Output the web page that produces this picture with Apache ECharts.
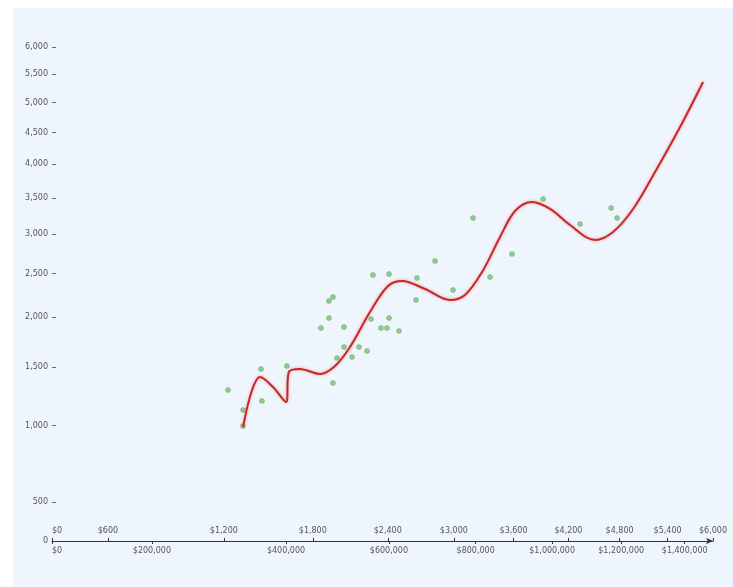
<!DOCTYPE html>
<html>
<head>
<meta charset="utf-8">
<script src="https://cdn.jsdelivr.net/npm/echarts@6/dist/echarts.min.js"></script>
<style>
  html, body { margin: 0; padding: 0; background: #ffffff; }
  #chart { position: absolute; left: 13px; top: 8px; width: 720px; height: 579px; background: #eef5fc; }
</style>
</head>
<body>
<div id="chart"></div>
<script>
// tick labels (axes use a square-root scale)
const xTicksTop = [600, 1200, 1800, 2400, 3000, 3600, 4200, 4800, 5400, 6000]
const xTicksBottom = [200000, 400000, 600000, 800000, 1000000, 1200000, 1400000]
const yTicks = [500, 1000, 1500, 2000, 2500, 3000, 3500, 4000, 4500, 5000, 5500, 6000]
const bottomScale = 249 // bottom axis value = top axis value * 249
const xMinValue = 384
const xMaxValue = 6000
const yMinValue = 311
const yMaxValue = 6130

// observed points
const pointsX = [1225, 1319, 1319, 1436, 1442, 1613, 1953, 1861, 1922, 1922, 1953, 2039, 2039, 1984, 2103, 2159, 2225, 2258,
  2342, 2393, 2411, 2497, 2275, 2411, 2657, 2648, 2822, 2992, 3187, 3357, 3584, 3917, 4333, 4698, 4770]
const pointsY = [1290, 1122, 996, 1479, 1196, 1507, 1352, 1886, 1992, 2181, 2226, 1896, 1691, 1584, 1593, 1691, 1652, 1982,
  1886, 1886, 1992, 1854, 2484, 2496, 2448, 2192, 2656, 2307, 3220, 2460, 2744, 3486, 3138, 3359, 3220]

// fitted curve
const fitX = [1319, 1377, 1429, 1516, 1606, 1627, 1706, 1854, 1969, 2087, 2250, 2402, 2524, 2730, 2964, 3108, 3277, 3460,
  3616, 3797, 3994, 4218, 4507, 4721, 4965, 5240, 5562, 5866]
const fitY = [988, 1290, 1406, 1316, 1188, 1452, 1479, 1433, 1507, 1691, 2058, 2353, 2413, 2318, 2192, 2249, 2521, 2964,
  3317, 3443, 3345, 3124, 2925, 3030, 3345, 3883, 4591, 5360]

const sq = Math.sqrt
const xMin = sq(xMinValue)
const xMax = sq(xMaxValue)
const yMin = sq(yMinValue)
const yMax = sq(yMaxValue)

const fmt = (n) => n.toLocaleString('en-US')
const labelStyle = { color: '#555', fontSize: 8, fontFamily: 'DejaVu Sans' }

const chart = echarts.init(document.getElementById('chart'))
chart.setOption({
  animation: false,
  grid: { left: 39, right: 20, top: 32, bottom: 46 },
  xAxis: [
    {
      type: 'value',
      min: xMin,
      max: xMax,
      position: 'bottom',
      splitLine: { show: false },
      axisLine: { show: true, symbol: ['none', 'arrow'], symbolSize: [5, 7], lineStyle: { color: '#333', width: 1 } },
      axisTick: { show: true, inside: true, length: 3, lineStyle: { color: '#333' }, customValues: [xMin].concat(xTicksTop.map(sq)) },
      axisLabel: Object.assign({
        inside: true,
        margin: 6,
        alignMinLabel: 'left',
        customValues: [xMin].concat(xTicksTop.map(sq)),
        formatter: (v) => v < xMin + 0.01 ? '$0' : '$' + fmt(Math.round(v * v / 100) * 100)
      }, labelStyle)
    },
    {
      type: 'value',
      min: xMin,
      max: xMax,
      position: 'bottom',
      splitLine: { show: false },
      axisLine: { show: false },
      axisTick: { show: true, length: 3, lineStyle: { color: '#333' }, customValues: [xMin].concat(xTicksBottom.map(v => sq(v / bottomScale))) },
      axisLabel: Object.assign({
        margin: 6,
        alignMinLabel: 'left',
        customValues: [xMin].concat(xTicksBottom.map(v => sq(v / bottomScale))),
        formatter: (v) => v < xMin + 0.01 ? '$0' : '$' + fmt(Math.round(v * v * bottomScale / 100000) * 100000)
      }, labelStyle)
    }
  ],
  yAxis: {
    type: 'value',
    min: yMin,
    max: yMax,
    splitLine: { show: false },
    axisLine: { show: false },
    axisTick: { show: true, inside: true, length: 4, lineStyle: { color: '#666' }, customValues: yTicks.map(sq) },
    axisLabel: Object.assign({
      margin: 4,
      customValues: [yMin].concat(yTicks.map(sq)),
      formatter: (v) => v < yMin + 0.01 ? '0' : fmt(Math.round(v * v / 100) * 100)
    }, labelStyle)
  },
  series: [
    {
      type: 'scatter',
      symbolSize: 5,
      itemStyle: { color: '#7cc47a', opacity: 0.85, borderColor: '#5ea85c', borderWidth: 0.5 },
      data: pointsX.map((x, i) => [sq(x), sq(pointsY[i])])
    },
    {
      type: 'line',
      smooth: 0.35,
      showSymbol: false,
      lineStyle: { color: '#c62828', width: 2, shadowColor: 'rgba(235,90,90,0.6)', shadowBlur: 3 },
      data: fitX.map((x, i) => [sq(x), sq(fitY[i])])
    }
  ]
})
</script>
</body>
</html>
